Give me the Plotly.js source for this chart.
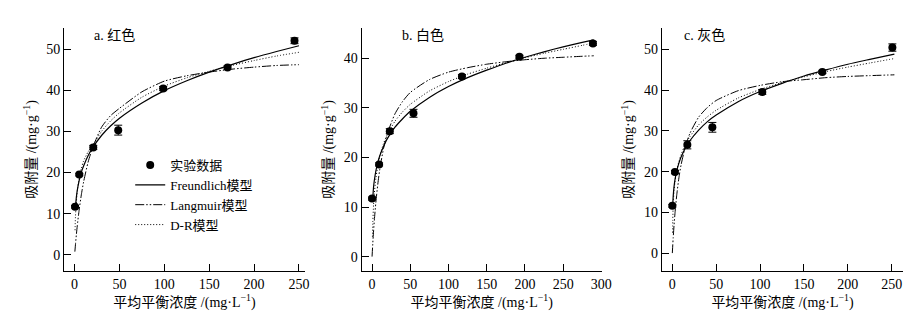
<!DOCTYPE html>
<html>
<head>
<meta charset="utf-8">
<script src="https://cdn.plot.ly/plotly-3.0.1.min.js"></script>
<style>html,body{margin:0;padding:0;background:#fff;}#chart{width:917px;height:319px;}</style>
</head>
<body>
<div id="chart"></div>
<script>
// ---- experimental data ----
const xA = [0.5, 5.2, 20.8, 48.6, 98.7, 170.4, 245];
const yA = [11.7, 19.5, 26.1, 30.3, 40.4, 45.5, 52.0];
const eA = [0.3, 0.3, 0.5, 1.2, 0.5, 0.4, 0.7];
const xB = [0, 9.2, 23.2, 54.2, 117.6, 192.8, 289];
const yB = [11.7, 18.6, 25.3, 28.9, 36.3, 40.3, 43.0];
const eB = [0.3, 0.3, 0.5, 0.8, 0.4, 0.3, 0.4];
const xC = [0, 3, 17.1, 45.6, 102.5, 170.9, 250.7];
const yC = [11.6, 19.9, 26.6, 30.9, 39.6, 44.5, 50.5];
const eC = [0.3, 0.4, 1.0, 1.2, 0.6, 0.4, 0.9];

// ---- model curves ----
const fxA = [1,2,3,5,7.5,10,15,20,30,40,50,75,100,125,150,175,200,225,250];
const fyA = [11.8,14.1,15.7,18.0,20.1,21.6,24.1,26.0,29.0,31.3,33.2,36.9,39.9,42.3,44.4,46.2,47.9,49.4,50.8];
const lxA = [0.3,1,2,3,5,7.5,10,15,20,30,40,50,75,100,125,150,175,200,225,250];
const lyA = [0.8,2.6,5.0,7.1,10.8,14.6,17.7,22.5,26.0,31.0,33.8,35.6,39.6,42.2,43.5,44.4,45.1,45.6,46.0,46.2];
const dxA = [0.5,1,2,3,5,7.5,10,15,20,30,40,50,75,100,125,150,175,200,225,250];
const dyA = [6,9.5,13,15.5,18.5,21,22.8,25.0,26.5,30,32.5,34.5,38.3,41,43,44.6,46,47.2,48.3,49.2];

const fxB = [1,2,3,5,7.5,10,15,20,30,40,50,75,100,125,150,175,200,225,250,275,290];
const fyB = [12.0,14.1,15.4,17.3,19.0,20.3,22.2,23.8,26.1,27.8,29.3,32.1,34.3,36.1,37.6,39.0,40.2,41.3,42.3,43.2,43.7];
const lxB = [0,1,2,3,5,7.5,10,15,20,30,40,50,75,100,125,150,175,200,225,250,275,290];
const lyB = [0,2.8,5.2,7.4,11.0,14.6,17.5,21.8,24.8,28.8,31.3,33.1,35.7,37.2,38.1,38.8,39.3,39.7,40.0,40.2,40.4,40.5];
const dxB = [0.5,1,2,3,5,7.5,10,15,20,30,40,50,75,100,125,150,175,200,225,250,275,290];
const dyB = [4,7,10.5,12.8,15.8,18.3,20.2,22.8,24.6,27.3,29.2,30.7,33.4,35.3,36.8,38,39.1,40.1,41,41.8,42.6,43.1];

const fxC = [0.4,1,2,3,5,7.5,10,15,20,30,40,50,75,100,125,150,175,200,225,253];
const fyC = [11.4,14.0,16.4,18.0,20.2,22.1,23.6,25.9,27.6,30.2,32.3,33.9,37.2,39.7,41.7,43.5,45.0,46.4,47.6,48.9];
const lxC = [0,0.5,1,2,3,5,7.5,10,15,20,30,40,50,75,100,125,150,175,200,225,253];
const lyC = [0,2.0,3.8,7.0,9.7,14.2,18.5,21.7,26.3,29.4,33.4,35.8,37.5,39.9,41.2,42.1,42.6,43.1,43.4,43.6,43.8];
const dxC = [0.3,0.5,1,2,3,5,7.5,10,15,20,30,40,50,75,100,125,150,175,200,225,253];
const dyC = [5,8,12,15.5,17.5,20.3,22.5,24.2,26.8,28.6,31.5,33.5,35.1,38.1,40.2,41.9,43.3,44.6,45.7,46.7,47.8];

const panelLabels = ['a. 红色', 'b. 白色', 'c. 灰色'];
const seriesNames = ['实验数据', 'Freundlich模型', 'Langmuir模型', 'D-R模型'];
const xTitle = '平均平衡浓度 /(mg·L<sup>−1</sup>)';
const yTitle = '吸附量 /(mg·g<sup>−1</sup>)';

const FONT = 'Liberation Serif, "Noto Sans CJK SC", serif';
const DASH_L = '9px,2px,1.5px,2px,1.5px,2px';
const DASH_D = '1px,2px';

const panels = [
  {px:xA, py:yA, pe:eA, fx:fxA, fy:fyA, lx:lxA, ly:lyA, dx:dxA, dy:dyA},
  {px:xB, py:yB, pe:eB, fx:fxB, fy:fyB, lx:lxB, ly:lyB, dx:dxB, dy:dyB},
  {px:xC, py:yC, pe:eC, fx:fxC, fy:fyC, lx:lxC, ly:lyC, dx:dxC, dy:dyC}
];

const traces = [];
panels.forEach((p, i) => {
  const xa = i === 0 ? 'x' : 'x' + (i + 1);
  const ya = i === 0 ? 'y' : 'y' + (i + 1);
  const show = i === 0;
  traces.push({x:p.px, y:p.py, xaxis:xa, yaxis:ya, type:'scatter', mode:'markers', name:seriesNames[0],
    showlegend:show, legendgroup:'d',
    marker:{color:'#000', size:8},
    error_y:{type:'data', array:p.pe, visible:true, color:'#000', thickness:1, width:4}});
  traces.push({x:p.fx, y:p.fy, xaxis:xa, yaxis:ya, type:'scatter', mode:'lines', name:seriesNames[1],
    showlegend:show, legendgroup:'f', line:{color:'#000', width:1.2, shape:'spline', smoothing:0.6}});
  traces.push({x:p.lx, y:p.ly, xaxis:xa, yaxis:ya, type:'scatter', mode:'lines', name:seriesNames[2],
    showlegend:show, legendgroup:'l', line:{color:'#000', width:1, dash:DASH_L, shape:'spline', smoothing:0.6}});
  traces.push({x:p.dx, y:p.dy, xaxis:xa, yaxis:ya, type:'scatter', mode:'lines', name:seriesNames[3],
    showlegend:show, legendgroup:'r', line:{color:'#000', width:1, dash:DASH_D, shape:'spline', smoothing:0.6}});
});

function xax(domain, range, anchor) {
  return {domain:domain, range:range, anchor:anchor, showline:true, linecolor:'#000', linewidth:1,
    ticks:'inside', ticklen:7, tickwidth:1, tickcolor:'#000', dtick:50, tick0:0, showgrid:false, zeroline:false,
    tickfont:{family:FONT, size:14, color:'#000'},
    title:{text:xTitle, font:{family:FONT, size:14, color:'#000'}, standoff:4}};
}
function yax(domain, range, anchor) {
  return {domain:domain, range:range, anchor:anchor, showline:true, linecolor:'#000', linewidth:1,
    ticks:'inside', ticklen:7, tickwidth:1, tickcolor:'#000', dtick:10, tick0:0, showgrid:false, zeroline:false,
    tickfont:{family:FONT, size:14, color:'#000'},
    title:{text:yTitle, font:{family:FONT, size:14, color:'#000'}, standoff:6}};
}

const yd = [0.1505, 0.9122];
const layout = {
  width:917, height:319, margin:{l:0, r:0, t:0, b:0},
  paper_bgcolor:'#fff', plot_bgcolor:'#fff',
  showlegend:true,
  legend:{x:0.142, y:0.53, xanchor:'left', yanchor:'top', bgcolor:'rgba(0,0,0,0)',
    font:{family:FONT, size:13, color:'#000'}, itemwidth:30, tracegroupgap:0},
  xaxis: xax([0.0698, 0.3326], [-11.8, 256.7], 'y'),
  yaxis: yax(yd, [-3.9, 55.1], 'x'),
  xaxis2: xax([0.3944, 0.6562], [-13.6, 300.5], 'y2'),
  yaxis2: yax(yd, [-2.9, 46.1], 'x2'),
  xaxis3: xax([0.7216, 0.9851], [-12.1, 263.2], 'y3'),
  yaxis3: yax(yd, [-4.4, 55.3], 'x3'),
  annotations: [
    {text:panelLabels[0], xref:'x domain', yref:'y domain', x:0.116, y:0.97, xanchor:'left', yanchor:'middle', showarrow:false, font:{family:FONT, size:14, color:'#000'}},
    {text:panelLabels[1], xref:'x2 domain', yref:'y2 domain', x:0.16, y:0.97, xanchor:'left', yanchor:'middle', showarrow:false, font:{family:FONT, size:14, color:'#000'}},
    {text:panelLabels[2], xref:'x3 domain', yref:'y3 domain', x:0.083, y:0.97, xanchor:'left', yanchor:'middle', showarrow:false, font:{family:FONT, size:14, color:'#000'}}
  ]
};

Plotly.newPlot('chart', traces, layout, {displayModeBar:false, staticPlot:true});
</script>
</body>
</html>
